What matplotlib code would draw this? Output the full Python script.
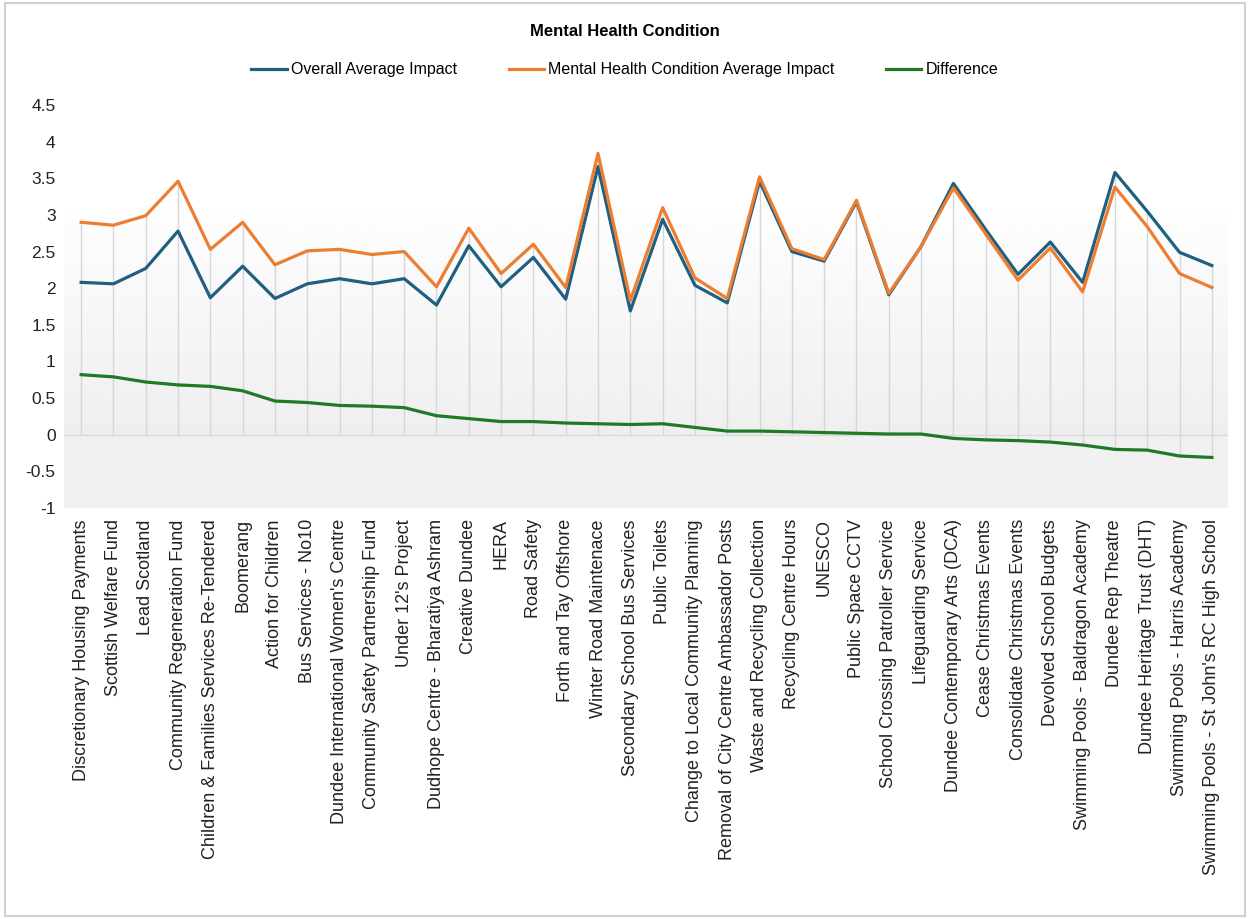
import numpy as np
import matplotlib
matplotlib.use("Agg")
import matplotlib.pyplot as plt
from matplotlib.patches import Rectangle

plt.rcParams['font.family'] = ['Liberation Sans', 'DejaVu Sans']

categories = [
    "Discretionary Housing Payments", "Scottish Welfare Fund", "Lead Scotland",
    "Community Regeneration Fund", "Children & Families Services Re-Tendered",
    "Boomerang", "Action for Children", "Bus Services - No10",
    "Dundee International Women's Centre", "Community Safety Partnership Fund",
    "Under 12's Project", "Dudhope Centre - Bharatiya Ashram", "Creative Dundee",
    "HERA", "Road Safety", "Forth and Tay Offshore", "Winter Road Maintenace",
    "Secondary School Bus Services", "Public Toilets",
    "Change to Local Community Planning", "Removal of City Centre Ambassador Posts",
    "Waste and Recycling Collection", "Recycling Centre Hours", "UNESCO",
    "Public Space CCTV", "School Crossing Patroller Service", "Lifeguarding Service",
    "Dundee Contemporary Arts (DCA)", "Cease Christmas Events",
    "Consolidate Christmas Events", "Devolved School Budgets",
    "Swimming Pools - Baldragon Academy", "Dundee Rep Theatre",
    "Dundee Heritage Trust (DHT)", "Swimming Pools - Harris Academy",
    "Swimming Pools - St John's RC High School",
]

overall = [2.08, 2.06, 2.27, 2.78, 1.87, 2.30, 1.86, 2.06, 2.13, 2.06, 2.13, 1.77,
           2.58, 2.02, 2.42, 1.85, 3.66, 1.69, 2.94, 2.04, 1.80, 3.46, 2.50, 2.37,
           3.18, 1.91, 2.57, 3.43, 2.80, 2.19, 2.63, 2.08, 3.58, 3.05, 2.49, 2.31]
mental = [2.90, 2.86, 2.99, 3.46, 2.53, 2.90, 2.32, 2.51, 2.53, 2.46, 2.50, 2.02,
          2.82, 2.20, 2.60, 2.01, 3.84, 1.83, 3.10, 2.14, 1.86, 3.52, 2.54, 2.39,
          3.20, 1.93, 2.57, 3.37, 2.74, 2.11, 2.55, 1.95, 3.38, 2.84, 2.20, 2.01]
difference = [0.82, 0.79, 0.72, 0.68, 0.66, 0.60, 0.46, 0.44, 0.40, 0.39, 0.37, 0.26,
              0.22, 0.18, 0.18, 0.16, 0.15, 0.14, 0.15, 0.10, 0.05, 0.05, 0.04, 0.03,
              0.02, 0.01, 0.01, -0.05, -0.07, -0.08, -0.10, -0.14, -0.20, -0.21, -0.29, -0.31]

x = np.arange(len(categories))

fig = plt.figure(figsize=(12.5, 9.19), dpi=100)
ax = fig.add_axes([0.0512, 0.4472, 0.9312, 0.4385])

xmin, xmax = -0.53, 35.5
ax.set_xlim(xmin, xmax)
ax.set_ylim(-1, 4.5)

# background: white above, gradient down to zero, flat grey below
grad = np.linspace(1.0, 0.935, 256).reshape(-1, 1)
ax.imshow(grad, extent=[xmin, xmax, 0, 3.3], aspect='auto', cmap='gray',
          vmin=0, vmax=1, zorder=0)
ax.add_patch(Rectangle((xmin, -1), xmax - xmin, 1, color='#f1f1f1', zorder=0, lw=0))

# drop lines
lo = np.minimum(0, difference)
hi = np.maximum(overall, mental)
ax.vlines(x, lo, hi, color='#d6d6d6', lw=1, zorder=1)
ax.axhline(0, color='#d9d9d9', lw=1, zorder=1)

ax.plot(x, overall, color='#1f5f80', lw=2.3, label='Overall Average Impact', zorder=3)
ax.plot(x, mental, color='#ed7d31', lw=2.3, label='Mental Health Condition Average Impact', zorder=4)
ax.plot(x, difference, color='#1e7a25', lw=2.3, label='Difference', zorder=3)

ax.set_yticks(np.arange(-1, 4.51, 0.5))
ax.set_yticklabels(['-1', '-0.5', '0', '0.5', '1', '1.5', '2', '2.5', '3', '3.5', '4', '4.5'])
ax.set_xticks(x)
ax.set_xticklabels(categories, rotation=90)
ax.tick_params(axis='both', length=0, colors='#222222')
ax.tick_params(axis='x', pad=8, labelsize=13)
ax.tick_params(axis='y', pad=6, labelsize=12.5)
for s in ax.spines.values():
    s.set_visible(False)

fig.text(0.5, 0.966, 'Mental Health Condition', ha='center', va='center',
         fontsize=12, fontweight='bold')
fig.legend(loc='center', bbox_to_anchor=(0.5, 0.924), ncol=3, frameon=False,
           fontsize=11.5, handlelength=2.2, columnspacing=3.2, handletextpad=0.3)

fig.add_artist(Rectangle((0.004, 0.003), 0.992, 0.994, transform=fig.transFigure,
                         fill=False, edgecolor='#d0d0d0', lw=1.5))

fig.savefig('out.png', dpi=100)
